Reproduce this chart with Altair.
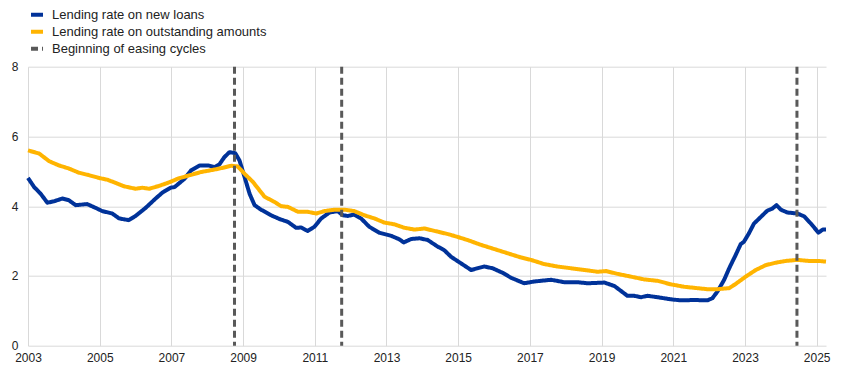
import altair as alt
import pandas as pd

# ---- data (decimal years, percent) ----
new_years = [2003.0, 2003.17, 2003.35, 2003.54, 2003.72, 2003.96, 2004.14, 2004.33, 2004.65, 2004.89,
             2005.07, 2005.35, 2005.54, 2005.81, 2006.0, 2006.28, 2006.56, 2006.75, 2006.98, 2007.09,
             2007.37, 2007.55, 2007.79, 2008.02, 2008.2, 2008.34, 2008.48, 2008.62, 2008.78, 2008.9,
             2009.04, 2009.18, 2009.32, 2009.5, 2009.78, 2010.02, 2010.25, 2010.48, 2010.62, 2010.8,
             2010.99, 2011.18, 2011.41, 2011.64, 2011.78, 2011.92, 2012.1, 2012.29, 2012.52, 2012.8,
             2013.13, 2013.36, 2013.48, 2013.69, 2013.92, 2014.15, 2014.43, 2014.61, 2014.8, 2015.08,
             2015.36, 2015.54, 2015.73, 2015.96, 2016.24, 2016.47, 2016.84, 2017.12, 2017.59, 2017.96,
             2018.33, 2018.61, 2019.08, 2019.36, 2019.54, 2019.72, 2019.91, 2020.1, 2020.28, 2020.56,
             2020.93, 2021.21, 2021.58, 2021.95, 2022.09, 2022.23, 2022.42, 2022.56, 2022.74, 2022.88,
             2022.97, 2023.11, 2023.25, 2023.44, 2023.62, 2023.76, 2023.88, 2024.0, 2024.18, 2024.46,
             2024.65, 2024.84, 2025.05, 2025.17, 2025.26]
new_rates = [4.81, 4.55, 4.36, 4.10, 4.14, 4.22, 4.17, 4.03, 4.06, 3.95,
             3.86, 3.79, 3.65, 3.60, 3.72, 3.95, 4.22, 4.39, 4.53, 4.55,
             4.79, 5.03, 5.17, 5.17, 5.12, 5.20, 5.41, 5.55, 5.52, 5.31,
             4.84, 4.36, 4.03, 3.90, 3.74, 3.63, 3.55, 3.38, 3.39, 3.29,
             3.41, 3.65, 3.82, 3.86, 3.74, 3.72, 3.76, 3.65, 3.41, 3.24,
             3.15, 3.05, 2.96, 3.06, 3.08, 3.03, 2.84, 2.74, 2.55, 2.36,
             2.17, 2.22, 2.27, 2.22, 2.09, 1.95, 1.79, 1.84, 1.89, 1.82,
             1.82, 1.79, 1.81, 1.71, 1.57, 1.43, 1.43, 1.39, 1.43, 1.39,
             1.33, 1.30, 1.31, 1.30, 1.36, 1.55, 1.89, 2.22, 2.60, 2.91,
             2.98, 3.22, 3.50, 3.69, 3.87, 3.93, 4.03, 3.90, 3.82, 3.79,
             3.71, 3.50, 3.24, 3.33, 3.33]

out_years = [2003.0, 2003.31, 2003.59, 2003.86, 2004.14, 2004.42, 2004.70, 2004.98, 2005.21, 2005.44,
             2005.68, 2006.0, 2006.19, 2006.38, 2006.65, 2006.93, 2007.18, 2007.55, 2007.83, 2008.2,
             2008.43, 2008.67, 2008.85, 2009.04, 2009.27, 2009.6, 2009.88, 2010.06, 2010.25, 2010.53,
             2010.8, 2011.04, 2011.27, 2011.55, 2011.83, 2012.1, 2012.38, 2012.66, 2012.94, 2013.22,
             2013.5, 2013.78, 2014.06, 2014.43, 2014.75, 2014.98, 2015.26, 2015.64, 2016.01, 2016.38,
             2016.75, 2017.03, 2017.4, 2017.77, 2018.15, 2018.52, 2018.89, 2019.12, 2019.44, 2019.82,
             2020.19, 2020.56, 2020.93, 2021.3, 2021.67, 2021.95, 2022.23, 2022.56, 2022.74, 2023.02,
             2023.3, 2023.58, 2023.86, 2024.14, 2024.46, 2024.79, 2025.06, 2025.26]
out_rates = [5.60, 5.51, 5.29, 5.17, 5.08, 4.96, 4.89, 4.81, 4.76, 4.67,
             4.57, 4.50, 4.53, 4.50, 4.58, 4.68, 4.79, 4.90, 4.98, 5.05,
             5.10, 5.16, 5.14, 4.93, 4.70, 4.27, 4.12, 4.00, 3.98, 3.84,
             3.84, 3.79, 3.86, 3.90, 3.90, 3.86, 3.74, 3.65, 3.53, 3.48,
             3.38, 3.33, 3.36, 3.27, 3.19, 3.12, 3.03, 2.89, 2.77, 2.65,
             2.53, 2.46, 2.34, 2.27, 2.22, 2.17, 2.12, 2.14, 2.06, 1.98,
             1.90, 1.86, 1.76, 1.69, 1.65, 1.62, 1.62, 1.65, 1.77, 1.98,
             2.17, 2.31, 2.38, 2.43, 2.46, 2.43, 2.43, 2.41]

easing_years = [2008.76, 2011.75, 2024.45]

year_ticks = list(range(2003, 2026, 2))
rate_ticks = [0, 2, 4, 6, 8]

S_NEW = "Lending rate on new loans"
S_OUT = "Lending rate on outstanding amounts"
S_EASE = "Beginning of easing cycles"
series_domain = [S_NEW, S_OUT, S_EASE]
series_colors = ["#003299", "#ffb400", "#595959"]
series_dashes = [[1, 0], [1, 0], [7, 4]]

lines_df = pd.concat([
    pd.DataFrame({"year": new_years, "rate": new_rates, "series": S_NEW}),
    pd.DataFrame({"year": out_years, "rate": out_rates, "series": S_OUT}),
], ignore_index=True)
ease_df = pd.DataFrame({"year": easing_years, "series": S_EASE})

legend = alt.Legend(
    title=None, orient="none", legendX=1, legendY=-60, direction="vertical",
    symbolType="stroke", symbolStrokeWidth=4, symbolSize=144,
    labelFontSize=13, labelColor="#222222", labelFont="Liberation Sans",
    labelOffset=7, labelLimit=0, rowPadding=1, padding=0,
)

color = alt.Color("series:N", scale=alt.Scale(domain=series_domain, range=series_colors), legend=legend)
dash = alt.StrokeDash("series:N", scale=alt.Scale(domain=series_domain, range=series_dashes), legend=legend)

x_enc = alt.X("year:Q",
              scale=alt.Scale(domain=[2003, 2025.26], nice=False, zero=False),
              axis=alt.Axis(values=year_ticks, format="d", title=None, ticks=False, domain=False,
                            labelPadding=7, labelFontSize=12, labelColor="#222222",
                            gridColor="#d9d9d9", labelFlush=False))

lines = alt.Chart(lines_df).mark_line(strokeWidth=4, strokeJoin="round").encode(
    x=x_enc,
    y=alt.Y("rate:Q",
            scale=alt.Scale(domain=[0, 8], nice=False),
            axis=alt.Axis(values=rate_ticks, format="d", title=None, ticks=False, domain=False,
                          labelPadding=10, labelFontSize=12, labelColor="#222222",
                          gridColor="#d9d9d9")),
    color=color,
    strokeDash=dash,
    detail="series:N",
)

rules = alt.Chart(ease_df).mark_rule(strokeWidth=3).encode(
    x=alt.X("year:Q"),
    color=color,
    strokeDash=dash,
)

chart = alt.layer(lines, rules).properties(
    width=798, height=279,
    padding={"left": 20, "top": 58.7, "right": 34, "bottom": 19},
    autosize=alt.AutoSizeParams(type="none"),
).configure(font="Liberation Sans").configure_view(strokeWidth=0)

chart.save("out.html", embed_options={"renderer": "svg", "actions": False})
